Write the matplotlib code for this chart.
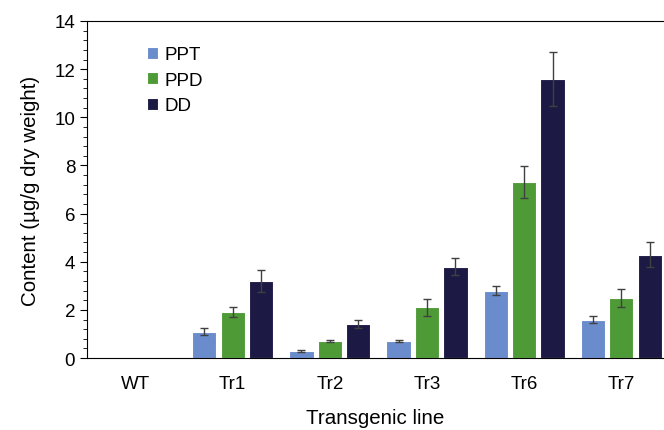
import numpy as np
import matplotlib
matplotlib.use("Agg")
import matplotlib.pyplot as plt
from matplotlib.ticker import MultipleLocator

plt.rcParams["font.family"] = ["Liberation Sans", "DejaVu Sans"]

lines = ["WT", "Tr1", "Tr2", "Tr3", "Tr6", "Tr7"]
ppt = [0.0, 1.1, 0.3, 0.7, 2.8, 1.6]
ppt_err = [0.0, 0.14, 0.03, 0.05, 0.19, 0.15]
ppd = [0.0, 1.9, 0.7, 2.1, 7.3, 2.5]
ppd_err = [0.0, 0.2, 0.03, 0.34, 0.66, 0.36]
dd = [0.0, 3.2, 1.4, 3.8, 11.6, 4.3]
dd_err = [0.0, 0.45, 0.17, 0.35, 1.12, 0.51]

series = [
    ("PPT", ppt, ppt_err, "#6a8ccc"),
    ("PPD", ppd, ppd_err, "#4e9a36"),
    ("DD", dd, dd_err, "#1c1a44"),
]

fig = plt.figure(figsize=(6.64, 4.31), dpi=100)
ax = fig.add_axes([0.131, 0.167, 0.869, 0.782])

x = np.arange(len(lines))
w = 0.25
step = 0.293
for i, (name, vals, errs, col) in enumerate(series):
    ax.bar(x + (i - 1) * step, vals, w, color=col, edgecolor="white",
           linewidth=0.8, label=name,
           yerr=[e if e > 0 else np.nan for e in errs],
           error_kw=dict(ecolor="#404040", elinewidth=1, capsize=3, capthick=1))

ax.set_xlim(-0.5, 5.44)
ax.set_ylim(0, 14)
ax.yaxis.set_major_locator(MultipleLocator(2))
ax.yaxis.set_minor_locator(MultipleLocator(0.4))
ax.set_xticks(x)
ax.set_xticklabels(lines)
ax.tick_params(axis="x", length=0, pad=12, labelsize=13.5)
ax.tick_params(axis="y", which="major", length=5, labelsize=13.5)
ax.tick_params(axis="y", which="minor", length=3)
ax.spines["right"].set_visible(False)
ax.set_xlabel("Transgenic line", fontsize=14.8, labelpad=12)
ax.set_ylabel("Content (µg/g dry weight)", fontsize=14.8, labelpad=10)

ax.legend(loc="upper left", bbox_to_anchor=(0.075, 0.975), frameon=False,
          fontsize=13.5, handlelength=0.6, handleheight=0.6, handletextpad=0.3,
          labelspacing=0.45)

fig.savefig("out.png", dpi=100)
